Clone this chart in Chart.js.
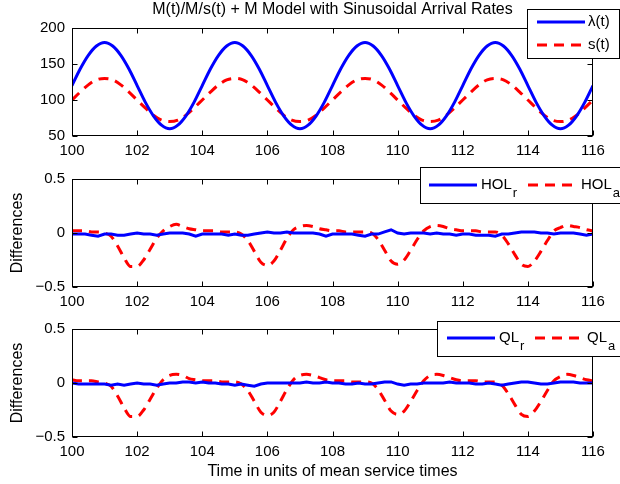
<!DOCTYPE html>
<html>
<head>
<meta charset="utf-8">
<script src="https://cdn.jsdelivr.net/npm/chart.js@4.4.1/dist/chart.umd.min.js"></script>
<style>
html, body { margin: 0; padding: 0; background: #fff; }
#wrap { position: relative; width: 620px; height: 484px; overflow: hidden; }
.pane { position: absolute; left: 0; width: 620px; }
</style>
</head>
<body>
<div id="wrap">
  <div class="pane" style="top:0;height:160px"><canvas id="c1"></canvas></div>
  <div class="pane" style="top:160px;height:150px"><canvas id="c2"></canvas></div>
  <div class="pane" style="top:310px;height:174px"><canvas id="c3"></canvas></div>
</div>
<script>
// time grid of the top panel (quarter steps)
const timesTop = [
  100, 100.25, 100.5, 100.75, 101, 101.25, 101.5, 101.75, 102, 102.25, 102.5, 102.75, 103, 103.25, 103.5, 103.75,
  104, 104.25, 104.5, 104.75, 105, 105.25, 105.5, 105.75, 106, 106.25, 106.5, 106.75, 107, 107.25, 107.5, 107.75,
  108, 108.25, 108.5, 108.75, 109, 109.25, 109.5, 109.75, 110, 110.25, 110.5, 110.75, 111, 111.25, 111.5, 111.75,
  112, 112.25, 112.5, 112.75, 113, 113.25, 113.5, 113.75, 114, 114.25, 114.5, 114.75, 115, 115.25, 115.5, 115.75,
  116
];
const lambda = [
  120, 143, 162, 175, 180, 175, 162, 143, 120, 97, 78, 65, 60, 65, 78, 97,
  120, 143, 162, 175, 180, 175, 162, 143, 120, 97, 78, 65, 60, 65, 78, 97,
  120, 143, 162, 175, 180, 175, 162, 143, 120, 97, 78, 65, 60, 65, 78, 97,
  120, 143, 162, 175, 180, 175, 162, 143, 120, 97, 78, 65, 60, 65, 78, 97,
  120
];
const servers = [
  100, 111, 121, 128, 130, 128, 121, 111, 100, 89, 79, 72, 70, 72, 79, 89,
  100, 111, 121, 128, 130, 128, 121, 111, 100, 89, 79, 72, 70, 72, 79, 89,
  100, 111, 121, 128, 130, 128, 121, 111, 100, 89, 79, 72, 70, 72, 79, 89,
  100, 111, 121, 128, 130, 128, 121, 111, 100, 89, 79, 72, 70, 72, 79, 89,
  100
];

// time grid of the two difference panels
const timesDiff = [
  100, 100.2, 100.4, 100.6, 100.8, 101, 101.2, 101.4, 101.6, 101.8,
  102, 102.2, 102.4, 102.6, 102.8, 103, 103.2, 103.4, 103.6, 103.8,
  104, 104.2, 104.4, 104.6, 104.8, 105, 105.2, 105.4, 105.6, 105.8,
  106, 106.2, 106.4, 106.6, 106.8, 107, 107.2, 107.4, 107.6, 107.8,
  108, 108.2, 108.4, 108.6, 108.8, 109, 109.2, 109.4, 109.6, 109.8,
  110, 110.2, 110.4, 110.6, 110.8, 111, 111.2, 111.4, 111.6, 111.8,
  112, 112.2, 112.4, 112.6, 112.8, 113, 113.2, 113.4, 113.6, 113.8,
  114, 114.2, 114.4, 114.6, 114.8, 115, 115.2, 115.4, 115.6, 115.8,
  116
];
const holR = [
  -0.01, -0.01, -0.01, -0.02, -0.03, -0.01, -0.01, -0.02, -0.02, -0.01,
  0.0, -0.01, -0.01, -0.02, -0.01, 0.0, 0.0, 0.0, -0.01, -0.03,
  -0.01, -0.01, -0.01, -0.01, -0.02, -0.01, -0.02, -0.02, -0.01, 0.0,
  0.01, 0.0, 0.0, 0.01, 0.0, 0.0, 0.0, 0.0, -0.01, -0.03,
  -0.01, -0.01, -0.01, -0.01, -0.02, -0.03, -0.01, -0.01, 0.01, 0.03,
  0.0, -0.01, 0.0, 0.0, 0.0, -0.01, 0.0, -0.01, -0.01, -0.02,
  -0.01, -0.01, -0.02, -0.02, -0.02, -0.03, -0.01, -0.01, 0.0, 0.01,
  0.01, 0.01, 0.0, 0.0, -0.01, 0.0, 0.0, 0.0, -0.01, -0.02,
  -0.01
];
const holA = [
  0.02, 0.02, 0.02, 0.01, 0.01, 0.0, -0.03, -0.12, -0.23, -0.31,
  -0.31, -0.25, -0.15, -0.05, 0.02, 0.06, 0.08, 0.06, 0.04, 0.03,
  0.02, 0.02, 0.02, 0.01, 0.01, 0.01, -0.01, -0.07, -0.17, -0.27,
  -0.30, -0.26, -0.16, -0.05, 0.03, 0.06, 0.07, 0.06, 0.04, 0.03,
  0.02, 0.02, 0.01, 0.01, 0.01, 0.01, 0.0, -0.06, -0.16, -0.26,
  -0.29, -0.25, -0.16, -0.06, 0.02, 0.06, 0.07, 0.06, 0.04, 0.03,
  0.02, 0.02, 0.02, 0.01, 0.01, 0.01, -0.02, -0.10, -0.20, -0.29,
  -0.31, -0.26, -0.17, -0.07, 0.02, 0.05, 0.07, 0.06, 0.05, 0.03,
  0.02
];
const qlR = [
  0.0, -0.01, -0.01, -0.01, -0.01, -0.01, -0.02, -0.01, -0.02, -0.01,
  0.0, -0.01, -0.01, -0.02, -0.01, 0.0, 0.0, 0.01, 0.01, 0.0,
  0.01, 0.0, 0.0, -0.01, -0.01, -0.02, -0.01, -0.02, -0.03, -0.01,
  0.0, 0.0, 0.0, 0.0, 0.0, 0.0, 0.01, 0.0, 0.0, 0.01,
  0.0, 0.0, -0.01, -0.01, 0.0, -0.01, -0.01, 0.0, 0.01, 0.01,
  -0.01, -0.02, -0.01, -0.01, 0.0, 0.0, 0.0, 0.0, 0.01, 0.0,
  0.0, 0.0, -0.01, -0.01, 0.0, -0.01, -0.02, -0.01, 0.0, 0.01,
  0.01, 0.0, -0.01, -0.01, 0.0, 0.01, 0.01, 0.01, 0.0, 0.0,
  0.0
];
const qlA = [
  0.03, 0.02, 0.02, 0.02, 0.01, 0.0, -0.03, -0.12, -0.23, -0.31,
  -0.31, -0.25, -0.15, -0.05, 0.03, 0.07, 0.08, 0.07, 0.04, 0.03,
  0.02, 0.02, 0.02, 0.01, 0.01, 0.01, -0.01, -0.07, -0.17, -0.27,
  -0.30, -0.27, -0.17, -0.06, 0.03, 0.07, 0.08, 0.07, 0.05, 0.03,
  0.02, 0.02, 0.02, 0.01, 0.01, 0.01, 0.0, -0.06, -0.16, -0.26,
  -0.29, -0.26, -0.17, -0.07, 0.02, 0.07, 0.08, 0.07, 0.05, 0.03,
  0.02, 0.02, 0.02, 0.01, 0.01, 0.01, -0.02, -0.10, -0.20, -0.29,
  -0.31, -0.26, -0.17, -0.07, 0.02, 0.06, 0.08, 0.07, 0.05, 0.03,
  0.02
];

const xTicks = [100, 102, 104, 106, 108, 110, 112, 114, 116];
const yTicksTop = [50, 100, 150, 200];
const yTicksDiff = [-0.5, 0, 0.5];

const titleText = "M(t)/M/s(t) + M Model with Sinusoidal Arrival Rates";
const diffLabel = "Differences";
const timeLabel = "Time in units of mean service times";
const topNames = ["\u03bb(t)", "s(t)"];
const holNames = ["HOL", "HOL"], holSubs = ["r", "a"];
const qlNames = ["QL", "QL"], qlSubs = ["r", "a"];

const FONT = "'Liberation Sans', Arial, Helvetica, sans-serif";
Chart.defaults.font.family = FONT;
Chart.defaults.font.size = 15;
Chart.defaults.color = "#000";

function pts(xs, ys) {
    return xs.map((x, i) => ({ x: x, y: ys[i] }));
}

// MATLAB style box, inward ticks, boxed legend and title
const matlabAxes = {
    id: "matlabAxes",
    afterDatasetsDraw(chart, args, o) {
        const { ctx, chartArea: a } = chart;
        const xs = chart.scales.x, ys = chart.scales.y;
        const L = a.left + 0.5, R = a.right - 0.5, T = a.top + 0.5, B = a.bottom - 0.5;
        ctx.save();
        ctx.strokeStyle = "#000";
        ctx.lineWidth = 1;
        ctx.setLineDash([]);
        ctx.beginPath();
        xs.ticks.forEach(t => {
            const p = Math.round(xs.getPixelForValue(t.value)) + 0.5;
            ctx.moveTo(p, B); ctx.lineTo(p, B - 5);
            ctx.moveTo(p, T); ctx.lineTo(p, T + 5);
        });
        ys.ticks.forEach(t => {
            const p = Math.round(ys.getPixelForValue(t.value)) + 0.5;
            ctx.moveTo(L, p); ctx.lineTo(L + 5, p);
            ctx.moveTo(R, p); ctx.lineTo(R - 5, p);
        });
        ctx.stroke();
        ctx.strokeRect(L, T, R - L, B - T);

        if (o.title) {
            ctx.fillStyle = "#000";
            ctx.font = "16px " + FONT;
            ctx.textAlign = "center";
            ctx.textBaseline = "middle";
            ctx.fillText(o.title, (a.left + a.right) / 2, o.titleY);
        }

        if (o.legend) {
            const g = o.legend;
            ctx.fillStyle = "#fff";
            ctx.fillRect(g.x, g.y, g.w, g.h);
            ctx.strokeStyle = "#000";
            ctx.lineWidth = 1;
            ctx.strokeRect(g.x + 0.5, g.y + 0.5, g.w, g.h);
            g.items.forEach((it, i) => {
                const ds = chart.data.datasets[i];
                ctx.strokeStyle = ds.borderColor;
                ctx.lineWidth = ds.borderWidth;
                ctx.setLineDash(ds.borderDash || []);
                ctx.beginPath();
                ctx.moveTo(it.x1, it.y);
                ctx.lineTo(it.x2, it.y);
                ctx.stroke();
                ctx.setLineDash([]);
                ctx.fillStyle = "#000";
                ctx.font = "15px " + FONT;
                ctx.textAlign = "left";
                ctx.textBaseline = "middle";
                ctx.fillText(ds.label, it.tx, it.y);
                if (ds.sub) {
                    const w = ctx.measureText(ds.label).width;
                    ctx.font = "13px " + FONT;
                    ctx.fillText(ds.sub, it.tx + w + 1, it.y + 8);
                }
            });
        }
        ctx.restore();
    }
};

function makeChart(id, datasets, cfg) {
    return new Chart(document.getElementById(id), {
        type: "line",
        data: { datasets: datasets },
        plugins: [matlabAxes],
        options: {
            responsive: true,
            maintainAspectRatio: false,
            animation: false,
            layout: { padding: { left: 0, right: 27, top: cfg.top, bottom: 0 } },
            elements: { point: { radius: 0 } },
            scales: {
                x: {
                    type: "linear",
                    min: 100,
                    max: 116,
                    afterBuildTicks: s => { s.ticks = xTicks.map(v => ({ value: v })); },
                    afterFit: s => { s.height = cfg.xh; },
                    grid: { display: false, drawTicks: false },
                    border: { display: false },
                    ticks: { autoSkip: false, maxRotation: 0, padding: 6, font: { size: 15 } },
                    title: cfg.xTitle
                        ? { display: true, text: cfg.xTitle, font: { size: 16 }, padding: { top: 0, bottom: 3 } }
                        : { display: false }
                },
                y: {
                    min: cfg.ymin,
                    max: cfg.ymax,
                    afterBuildTicks: s => { s.ticks = cfg.yTicks.map(v => ({ value: v })); },
                    afterFit: s => { s.width = 72; },
                    grid: { display: false, drawTicks: false },
                    border: { display: false },
                    ticks: {
                        padding: 7,
                        font: { size: 15 },
                        callback: v => String(v).replace("-", "\u2212")
                    },
                    title: cfg.yTitle
                        ? { display: true, text: cfg.yTitle, font: { size: 16 }, padding: { top: 8, bottom: 0 } }
                        : { display: false }
                }
            },
            plugins: {
                legend: { display: false },
                tooltip: { enabled: false },
                matlabAxes: { title: cfg.title, titleY: cfg.titleY, legend: cfg.legend }
            }
        }
    });
}

const blue = "#0000ff", red = "#ff0000";

makeChart("c1", [
    { label: topNames[0], data: pts(timesTop, lambda), borderColor: blue, borderWidth: 3, cubicInterpolationMode: "monotone" },
    { label: topNames[1], data: pts(timesTop, servers), borderColor: red, borderWidth: 3, borderDash: [10, 7], cubicInterpolationMode: "monotone" }
], {
    top: 28, xh: 24, ymin: 50, ymax: 200, yTicks: yTicksTop,
    title: titleText, titleY: 10,
    legend: {
        x: 527, y: 9, w: 92, h: 49,
        items: [{ x1: 537, x2: 585, y: 22, tx: 588 }, { x1: 537, x2: 585, y: 45, tx: 588 }]
    }
});

makeChart("c2", [
    { label: holNames[0], sub: holSubs[0], data: pts(timesDiff, holR), borderColor: blue, borderWidth: 3, tension: 0 },
    { label: holNames[1], sub: holSubs[1], data: pts(timesDiff, holA), borderColor: red, borderWidth: 3, borderDash: [10, 7], cubicInterpolationMode: "monotone" }
], {
    top: 19, xh: 23, ymin: -0.5, ymax: 0.5, yTicks: yTicksDiff, yTitle: diffLabel,
    legend: {
        x: 420, y: 7, w: 210, h: 36,
        items: [{ x1: 429, x2: 477, y: 25, tx: 481 }, { x1: 528, x2: 577, y: 25, tx: 581 }]
    }
});

makeChart("c3", [
    { label: qlNames[0], sub: qlSubs[0], data: pts(timesDiff, qlR), borderColor: blue, borderWidth: 3, tension: 0 },
    { label: qlNames[1], sub: qlSubs[1], data: pts(timesDiff, qlA), borderColor: red, borderWidth: 3, borderDash: [10, 7], cubicInterpolationMode: "monotone" }
], {
    top: 19, xh: 47, ymin: -0.5, ymax: 0.5, yTicks: yTicksDiff, yTitle: diffLabel, xTitle: timeLabel,
    legend: {
        x: 437, y: 11, w: 190, h: 35,
        items: [{ x1: 447, x2: 495, y: 28, tx: 499 }, { x1: 535, x2: 583, y: 28, tx: 587 }]
    }
});
</script>
</body>
</html>
